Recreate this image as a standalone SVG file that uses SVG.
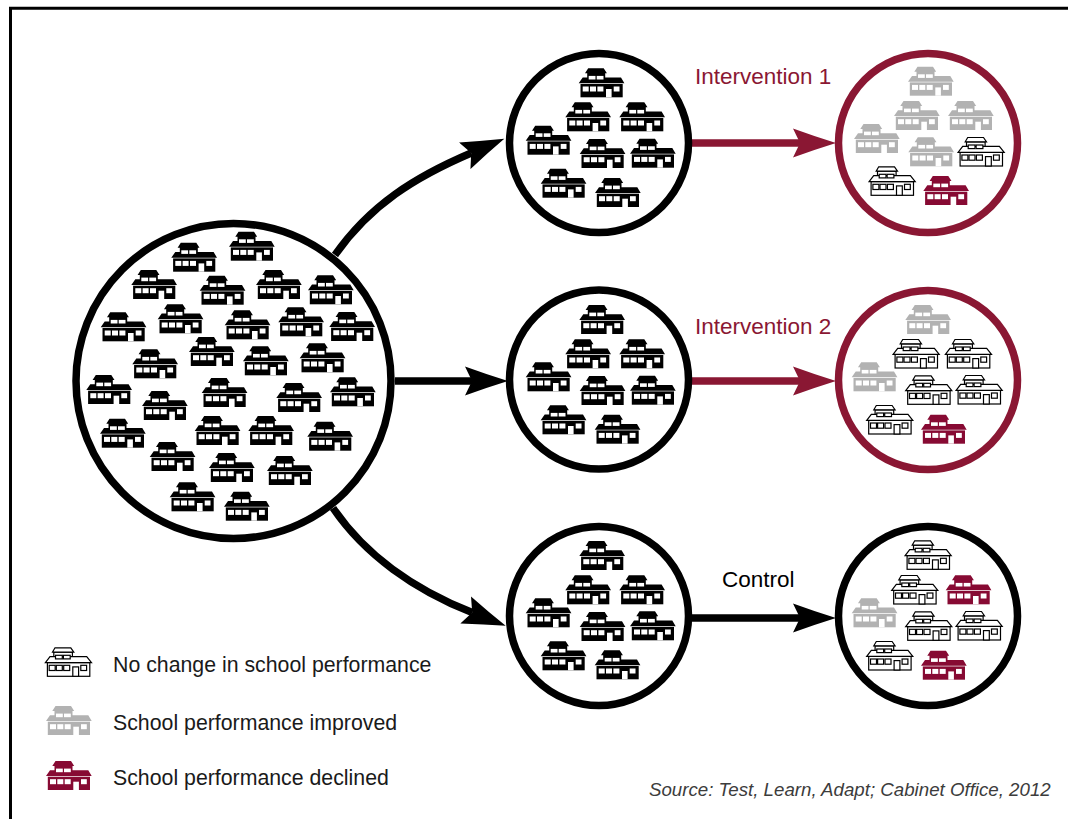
<svg xmlns="http://www.w3.org/2000/svg" width="1068" height="819" viewBox="0 0 1068 819">
<style>
text{font-family:"Liberation Sans",Arial,sans-serif}
.lbl{font-size:22.5px}
.leg{font-size:21.3px;fill:#1a1a1a}
.src{font-size:18.7px;font-style:italic;fill:#3c3c3c}
.red{fill:#8a1733}
.ring{fill:#fff;stroke:#000;stroke-width:7.5}
.ring.rd{stroke:#8a1733}
.k{fill:#000}.g{fill:#b2b2b2}.r{fill:#870a33}
.w{fill:#fff}
.ol path,.ol rect{fill:#fff;stroke:#000;stroke-width:1.2}
.conn{fill:none;stroke:#000;stroke-width:7.5}
.conn.rd{stroke:#8a1733}
</style>
<defs>
<marker id="ah" markerUnits="userSpaceOnUse" markerWidth="44" markerHeight="30" refX="7" refY="15" orient="auto" viewBox="0 0 44 30"><path d="M0,.5 Q22,8.5 43,15 Q22,21.5 0,29.5 L7,15Z" fill="#000"/></marker>
<marker id="ar" markerUnits="userSpaceOnUse" markerWidth="44" markerHeight="30" refX="7" refY="15" orient="auto" viewBox="0 0 44 30"><path d="M0,.5 Q22,8.5 43,15 Q22,21.5 0,29.5 L7,15Z" fill="#8a1733"/></marker>
<symbol id="h" width="47" height="30" viewBox="0 0 47 30" overflow="visible">
<path d="M9.5 0H25L28.2 5H26.5V9.2H42.3L45.7 15H0L4 9.2H8.5V5H6.3Z"/>
<rect x="1.8" y="15.7" width="42.2" height="13.3"/>
<g class="w"><rect x="10" y="7.6" width="6.8" height="3.6"/><rect x="18" y="7.6" width="6.8" height="3.6"/><rect x="4" y="18.2" width="6" height="5"/><rect x="11.3" y="18.2" width="6" height="5"/><rect x="18.7" y="18.2" width="6" height="5"/><rect x="27.3" y="20.7" width="5.6" height="8.3"/><rect x="35" y="18.2" width="5.8" height="5"/></g>
</symbol>
<symbol id="o" width="47" height="30" viewBox="0 0 47 30" overflow="visible">
<g class="ol">
<rect x="2.4" y="15.3" width="42.4" height="13.7"/>
<path d="M8.8 4.8H27.4V12H8.8Z"/>
<path d="M5 9.3H41.7L46.5 15.3H.4Z"/>
<path d="M10 .5H25.8L28.8 4.8H7.5Z"/>
<rect x="10.5" y="8" width="6.8" height="3.6"/><rect x="18.4" y="8" width="6.8" height="3.6"/>
<rect x="4.2" y="18" width="6" height="5.2"/><rect x="11.3" y="18" width="6" height="5.2"/><rect x="18.7" y="18" width="6" height="5.2"/>
<rect x="27.8" y="19.6" width="5.8" height="9.4"/><rect x="35.8" y="18" width="5.8" height="5.2"/>
</g>
</symbol>
</defs>
<path id="frame" d="M10.5 819V8.3H1068" fill="none" stroke="#000" stroke-width="3"/>

<g id="connectors">
<path class="conn" d="M335,255C370,205 415,177 471.2,153" marker-end="url(#ah)"/>
<path class="conn" d="M395,381H472" marker-end="url(#ah)"/>
<path class="conn" d="M333,508C365,555 415,590 472.2,612.6" marker-end="url(#ah)"/>
<path class="conn rd" d="M691,143H800" marker-end="url(#ar)"/>
<path class="conn rd" d="M691,381H800" marker-end="url(#ar)"/>
<path class="conn" d="M691,618H800" marker-end="url(#ah)"/>
</g>

<g id="population">
<circle class="ring" cx="233.5" cy="381" r="157.5"/>
<g class="k">
<use href="#h" x="229" y="231.7"/><use href="#h" x="171.3" y="242.7"/><use href="#h" x="131.3" y="270"/><use href="#h" x="199.7" y="275.7"/><use href="#h" x="256" y="270"/><use href="#h" x="308" y="275.3"/><use href="#h" x="100.7" y="312.3"/><use href="#h" x="157.7" y="304.3"/><use href="#h" x="224.7" y="310.3"/><use href="#h" x="278.3" y="307.3"/><use href="#h" x="329.3" y="312"/><use href="#h" x="189" y="337"/><use href="#h" x="243" y="346.3"/><use href="#h" x="299.7" y="343.3"/><use href="#h" x="132.3" y="349.3"/><use href="#h" x="86.3" y="375"/><use href="#h" x="201.7" y="378"/><use href="#h" x="276.3" y="383"/><use href="#h" x="330" y="377.3"/><use href="#h" x="142" y="391"/><use href="#h" x="100" y="418.7"/><use href="#h" x="194.7" y="416"/><use href="#h" x="248.3" y="416"/><use href="#h" x="307.3" y="421.7"/><use href="#h" x="149.7" y="442"/><use href="#h" x="209" y="453"/><use href="#h" x="267" y="456"/><use href="#h" x="169.7" y="482.3"/><use href="#h" x="224" y="491.7"/>
</g>
</g>

<g id="group-1">
<circle class="ring" cx="599" cy="143" r="89.5"/>
<g class="k"><use href="#h" x="578.7" y="68.3"/><use href="#h" x="565.3" y="102.3"/><use href="#h" x="619.3" y="102.3"/><use href="#h" x="525.7" y="125.7"/><use href="#h" x="579.7" y="139"/><use href="#h" x="630" y="138.7"/><use href="#h" x="540.7" y="168.7"/><use href="#h" x="595" y="178"/></g>
</g>
<g id="group-2">
<circle class="ring" cx="599" cy="379.5" r="89.5"/>
<g class="k"><use href="#h" x="579.3" y="305"/><use href="#h" x="565.3" y="339.3"/><use href="#h" x="619.3" y="339.3"/><use href="#h" x="525.7" y="362.3"/><use href="#h" x="579.7" y="376"/><use href="#h" x="630" y="375.7"/><use href="#h" x="540.7" y="405.3"/><use href="#h" x="594.7" y="414.7"/></g>
</g>
<g id="group-3">
<circle class="ring" cx="599" cy="616" r="89.5"/>
<g class="k"><use href="#h" x="579.3" y="541"/><use href="#h" x="565.3" y="575.3"/><use href="#h" x="619.3" y="575.3"/><use href="#h" x="525.7" y="598.3"/><use href="#h" x="579.7" y="612"/><use href="#h" x="630" y="611.3"/><use href="#h" x="540.7" y="641.3"/><use href="#h" x="594.7" y="650.3"/></g>
</g>

<g id="result-1">
<circle class="ring rd" cx="928" cy="143" r="89.5"/>
<g class="g"><use href="#h" x="908" y="66.7"/><use href="#h" x="894" y="101"/><use href="#h" x="948" y="101"/><use href="#h" x="854" y="124"/><use href="#h" x="908.3" y="137.3"/></g>
<use href="#o" x="957.7" y="137"/><use href="#o" x="868.7" y="166.3"/>
<use href="#h" class="r" x="923.3" y="176"/>
</g>
<g id="result-2">
<circle class="ring rd" cx="928" cy="380" r="89.5"/>
<g class="g"><use href="#h" x="905.3" y="305"/><use href="#h" x="851.7" y="362.3"/></g>
<use href="#o" x="892.7" y="339"/><use href="#o" x="945" y="339"/><use href="#o" x="905.3" y="375.3"/><use href="#o" x="955.7" y="375"/><use href="#o" x="866.3" y="405"/>
<use href="#h" class="r" x="921" y="414.7"/>
</g>
<g id="result-3">
<circle class="ring" cx="928" cy="616" r="89.5"/>
<use href="#h" class="g" x="851.7" y="598.3"/>
<use href="#o" x="904.7" y="540.3"/><use href="#o" x="891.3" y="575"/><use href="#o" x="905.3" y="611.3"/><use href="#o" x="955.7" y="611"/><use href="#o" x="866.3" y="641"/>
<use href="#h" class="r" x="945.7" y="575.3"/><use href="#h" class="r" x="921" y="650.7"/>
</g>

<g id="label-1"><text class="lbl red" x="695" y="84">Intervention 1</text></g>
<g id="label-2"><text class="lbl red" x="695" y="334">Intervention 2</text></g>
<g id="label-3"><text class="lbl" x="722" y="587">Control</text></g>

<g id="legend-no-change"><use href="#o" x="45" y="647.3"/><text class="leg" x="113" y="672">No change in school performance</text></g>
<g id="legend-improved"><use href="#h" class="g" x="46" y="706"/><text class="leg" x="113" y="729.5">School performance improved</text></g>
<g id="legend-declined"><use href="#h" class="r" x="46" y="761"/><text class="leg" x="113" y="785">School performance declined</text></g>
<g id="source"><text class="src" x="649" y="796">Source: Test, Learn, Adapt; Cabinet Office, 2012</text></g>
</svg>
